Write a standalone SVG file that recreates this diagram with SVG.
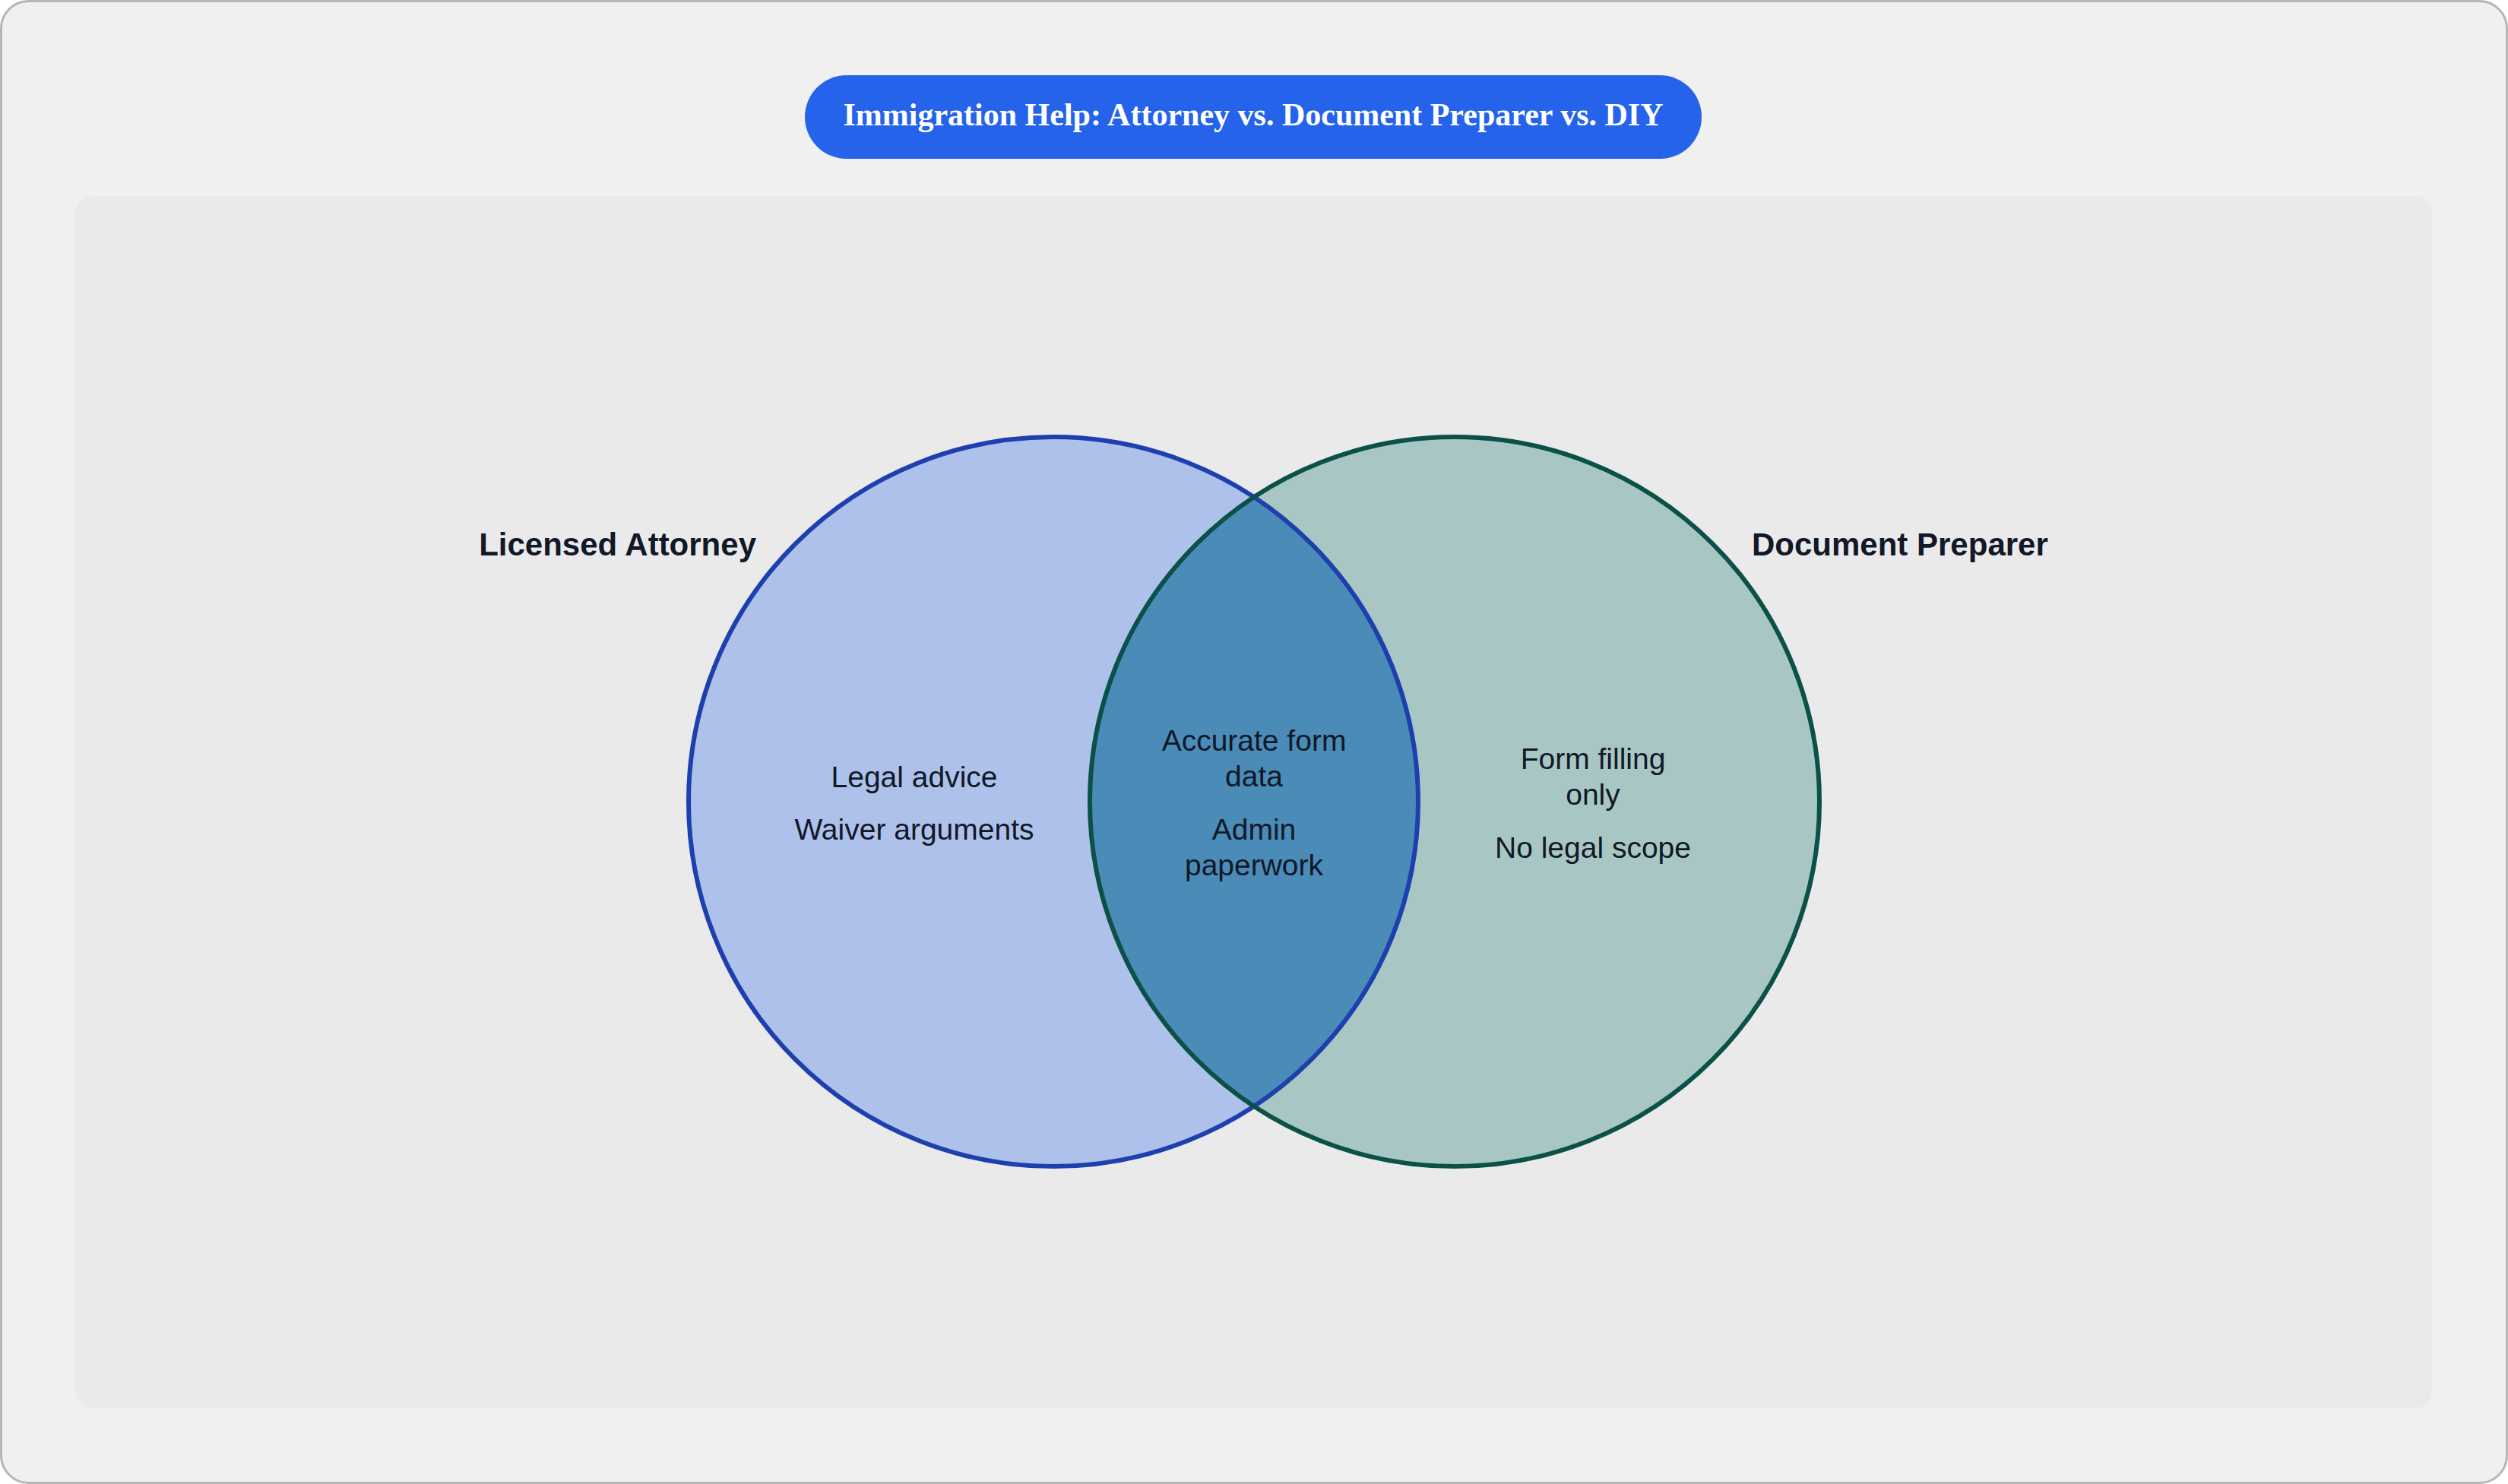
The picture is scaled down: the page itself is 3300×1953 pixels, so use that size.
<svg xmlns="http://www.w3.org/2000/svg" width="3300" height="1953" viewBox="0 0 3300 1953">
  <style>
    .title { font-family: "Liberation Serif", "Times New Roman", serif; font-weight: bold; font-size: 42px; fill: #ffffff; }
    .setlabel { font-family: "Liberation Sans", Arial, sans-serif; font-weight: bold; font-size: 42px; fill: #111827; }
    .item { font-family: "Liberation Sans", Arial, sans-serif; font-size: 39px; fill: #111827; text-anchor: middle; }
  </style>
  <rect x="1.5" y="1.5" width="3297" height="1950" rx="36" fill="#f0f0f0" stroke="#b5b5ba" stroke-width="3"/>
  <rect x="99" y="258" width="3101" height="1595" rx="22" fill="#eaeaea"/>
  <g id="title">
    <rect x="1059" y="99" width="1180" height="110" rx="55" fill="#2563eb"/>
    <text class="title" x="1649" y="165" text-anchor="middle">Immigration Help: Attorney vs. Document Preparer vs. DIY</text>
  </g>
  <g id="set-attorney">
    <circle cx="1386" cy="1055" r="480" fill="#2563eb" fill-opacity="0.3"/>
  </g>
  <g id="set-preparer">
    <circle cx="1914" cy="1055" r="480" fill="#0f766e" fill-opacity="0.3"/>
  </g>
  <g id="overlap">
    <path d="M1650,654 A480,480 0 0,1 1650,1456 A480,480 0 0,1 1650,654 Z" fill="#4a8bb8"/>
  </g>
  <g id="outlines" fill="none" stroke-width="6">
    <circle cx="1386" cy="1055" r="480" stroke="#1e40af"/>
    <circle cx="1914" cy="1055" r="480" stroke="#0b5148"/>
  </g>
  <g id="labels">
    <text class="setlabel" x="995" y="731" text-anchor="end">Licensed Attorney</text>
    <text class="setlabel" x="2305" y="731" text-anchor="start">Document Preparer</text>
  </g>
  <g id="attorney-items">
    <text class="item" x="1203" y="1036">Legal advice</text>
    <text class="item" x="1203" y="1105">Waiver arguments</text>
  </g>
  <g id="overlap-items">
    <text class="item" x="1650" y="988">Accurate form</text>
    <text class="item" x="1650" y="1035">data</text>
    <text class="item" x="1650" y="1105">Admin</text>
    <text class="item" x="1650" y="1152">paperwork</text>
  </g>
  <g id="preparer-items">
    <text class="item" x="2096" y="1012">Form filling</text>
    <text class="item" x="2096" y="1059">only</text>
    <text class="item" x="2096" y="1129">No legal scope</text>
  </g>
</svg>
